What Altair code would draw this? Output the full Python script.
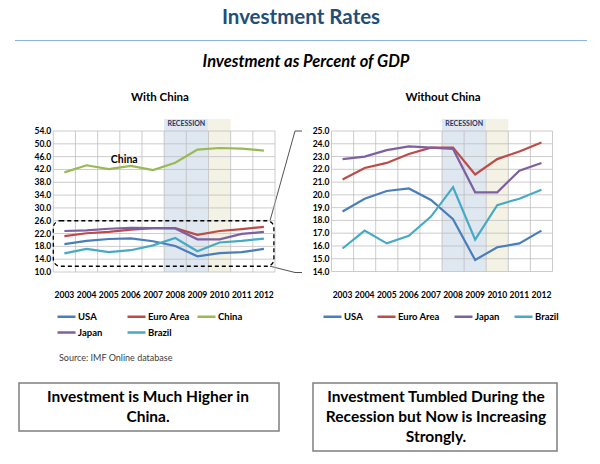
import altair as alt
import pandas as pd

# ---- data -------------------------------------------------------------
years = list(range(2003, 2013))
usa = [18.7, 19.7, 20.3, 20.5, 19.6, 18.1, 14.9, 15.9, 16.2, 17.2]
euro_area = [21.2, 22.1, 22.5, 23.2, 23.7, 23.7, 21.6, 22.8, 23.4, 24.1]
china = [41.1, 43.3, 42.1, 43.1, 41.8, 44.1, 48.2, 48.7, 48.5, 47.9]
japan = [22.8, 23.0, 23.5, 23.8, 23.7, 23.6, 20.2, 20.2, 21.9, 22.5]
brazil = [15.8, 17.2, 16.2, 16.8, 18.3, 20.6, 16.5, 19.2, 19.7, 20.4]

recession_years = [2008, 2009]
recovery_years = [2010]

left_series = ["USA", "Euro Area", "China", "Japan", "Brazil"]
right_series = ["USA", "Euro Area", "Japan", "Brazil"]
series_values = {"USA": usa, "Euro Area": euro_area, "China": china,
                 "Japan": japan, "Brazil": brazil}
series_colors = {"USA": "#4A7EBB", "Euro Area": "#BE4B48", "China": "#98B954",
                 "Japan": "#7D60A0", "Brazil": "#46AAC5"}

left_ticks = list(range(10, 55, 4))
right_ticks = list(range(14, 26, 1))

FONT = "Lato"
GRID = "#BFBFBF"
ONE = pd.DataFrame({"k": [0]})


def long_frame(names):
    rows = []
    for name in names:
        for yr, v in zip(years, series_values[name]):
            rows.append({"Year": yr, "Series": name, "Value": v})
    return pd.DataFrame(rows)


def label(text, x, y, size, weight="bold", style="normal", color="black",
          align="center", line_height=None):
    kw = dict(text=text, fontSize=size, fontWeight=weight, fontStyle=style,
              color=color, align=align, baseline="middle", font=FONT)
    if line_height:
        kw["lineHeight"] = line_height
    return alt.Chart(ONE).mark_text(**kw).encode(x=alt.value(x), y=alt.value(y))


def rule(x, y, x2, y2, color="black", width=1.0):
    return alt.Chart(ONE).mark_rule(color=color, strokeWidth=width).encode(
        x=alt.value(x), y=alt.value(y), x2=alt.value(x2), y2=alt.value(y2))


def box(x, y, x2, y2):
    return alt.Chart(ONE).mark_rect(fill="white", stroke="#7F7F7F", strokeWidth=1.5).encode(
        x=alt.value(x), y=alt.value(y), x2=alt.value(x2), y2=alt.value(y2))


def panel(names, px0, px1, pybot, pytop, ydom, yticks, legend):
    xs = alt.Scale(domain=[2002.5, 2012.5], range=[px0, px1], zero=False, nice=False)
    ys = alt.Scale(domain=ydom, range=[pybot, pytop], zero=False, nice=False)
    units_per_px = (ydom[1] - ydom[0]) / (pybot - pytop)
    shade_top = ydom[1] + 12 * units_per_px

    def shade(yrs, color):
        d = pd.DataFrame({"a": [min(yrs) - 0.5], "b": [max(yrs) + 0.5]})
        return alt.Chart(d).mark_rect(color=color).encode(
            x=alt.X("a:Q", scale=xs, axis=None), x2="b:Q",
            y=alt.YDatum(ydom[0], scale=ys, axis=None), y2=alt.Y2Datum(shade_top))

    rec_mid = pd.DataFrame({"m": [sum(recession_years) / len(recession_years)]})
    rec_text = alt.Chart(rec_mid).mark_text(
        text="RECESSION", fontSize=7, fontWeight="bold", color="#1F3864",
        font=FONT, baseline="middle").encode(
        x=alt.X("m:Q", scale=xs, axis=None), y=alt.value(pytop - 7))

    hgrid = alt.Chart(pd.DataFrame({"v": yticks})).mark_rule(
        color=GRID, strokeWidth=0.8).encode(
        y=alt.Y("v:Q", scale=ys, axis=None),
        x=alt.XDatum(2002.5, scale=xs, axis=None), x2=alt.X2Datum(2012.5))

    edges = [y - 0.5 for y in years] + [years[-1] + 0.5]
    vgrid = alt.Chart(pd.DataFrame({"e": edges})).mark_rule(
        color=GRID, strokeWidth=0.8).encode(
        x=alt.X("e:Q", scale=xs, axis=None),
        y=alt.YDatum(ydom[0], scale=ys, axis=None), y2=alt.Y2Datum(ydom[1]))

    ylab = alt.Chart(pd.DataFrame({"v": yticks})).mark_text(
        align="right", baseline="middle", fontSize=8.5, fontWeight="bold",
        font=FONT, color="black").encode(
        y=alt.Y("v:Q", scale=ys, axis=None), x=alt.value(px0 - 2),
        text=alt.Text("v:Q", format=".1f"))

    xlab = alt.Chart(pd.DataFrame({"yr": years})).mark_text(
        align="center", baseline="middle", fontSize=8.5, fontWeight="bold",
        font=FONT, color="black").encode(
        x=alt.X("yr:Q", scale=xs, axis=None), y=alt.value(295),
        text=alt.Text("yr:Q", format="d"))

    lines = alt.Chart(long_frame(names)).mark_line(strokeWidth=2.2).encode(
        x=alt.X("Year:Q", scale=xs, axis=None),
        y=alt.Y("Value:Q", scale=ys, axis=None),
        color=alt.Color("Series:N", sort=names,
                        scale=alt.Scale(domain=names,
                                        range=[series_colors[n] for n in names]),
                        legend=legend))

    layers = [shade(recession_years, "#DFE7F1"), shade(recovery_years, "#F3F2E4"),
              rec_text, hgrid, vgrid, lines, ylab, xlab]
    return layers, xs, ys


def legend(x, y, cols, align, pad):
    return alt.Legend(orient="none", legendX=x, legendY=y, columns=cols,
                      direction="horizontal", gridAlign=align,
                      columnPadding=pad, rowPadding=0,
                      symbolType="stroke", symbolSize=324, symbolStrokeWidth=2.5,
                      labelFont=FONT, labelFontSize=9.5, labelFontWeight="bold",
                      labelColor="black", labelOffset=1, title=None, padding=0)


# ---- left panel: with China -------------------------------------------
L_X0, L_X1, L_YB, L_YT = 53.3, 275.0, 272.0, 131.0
left_layers, lxs, lys = panel(left_series, L_X0, L_X1, L_YB, L_YT, [10, 54], left_ticks,
                              legend(56, 306, 3, "all", 2))

china_note = alt.Chart(pd.DataFrame({"x": [2005.7], "y": [44.9]})).mark_text(
    text="China", fontSize=10.5, fontWeight="bold", font=FONT, color="black").encode(
    x=alt.X("x:Q", scale=lxs, axis=None), y=alt.Y("y:Q", scale=lys, axis=None))

# dashed outline around the range that the right panel enlarges
zoom_low, zoom_high = 11.8, 26.0
zoom_box = alt.Chart(ONE).mark_rect(
    fillOpacity=0, stroke="black", strokeWidth=1.3, strokeDash=[4, 3],
    cornerRadius=7).encode(
    x=alt.XDatum(2002.5, scale=lxs, axis=None), x2=alt.X2Datum(2012.45),
    y=alt.YDatum(zoom_low, scale=lys, axis=None), y2=alt.Y2Datum(zoom_high))

left_panel = alt.layer(*left_layers, china_note, zoom_box)

# ---- right panel: without China ----------------------------------------
R_X0, R_X1, R_YB, R_YT = 331.5, 552.5, 271.5, 131.0
right_layers, rxs, rys = panel(right_series, R_X0, R_X1, R_YB, R_YT, [14, 25], right_ticks,
                               legend(322, 306, 4, "each", 9))
right_panel = alt.layer(*right_layers)


def ly(v):
    return L_YB - (v - 10) * (L_YB - L_YT) / (54 - 10)


# ---- page furniture -----------------------------------------------------
decor = [
    label("Investment Rates", 301, 18, 20.5, color="#1F4E79"),
    rule(15, 40.5, 587, 40.5, color="#8DB3E2", width=1),
    label("Investment as Percent of GDP", 306, 62, 16.5, style="italic"),
    label("With China", 160, 98, 11.5),
    label("Without China", 443, 98, 11.5),
    # connectors from the dashed outline to the enlarged axis
    rule(L_X1 - 5, ly(zoom_high), 295, R_YT, color="#404040", width=0.9),
    rule(295, R_YT, 302, R_YT, color="#404040", width=0.9),
    rule(L_X1 - 5, ly(zoom_low), 295, R_YB + 1, color="#404040", width=0.9),
    rule(295, R_YB + 1, 302, R_YB + 1, color="#404040", width=0.9),
    label("Source:  IMF  Online database", 59, 358, 9, weight="normal",
          color="#404040", align="left"),
    box(19, 383, 279, 431),
    label(["Investment is Much Higher in", "China."], 148, 397, 15.5, line_height=19.5),
    box(313, 383, 557, 451),
    label(["Investment Tumbled During the", "Recession but Now is Increasing", "Strongly."],
          436, 397, 15.5, line_height=20),
]

chart = alt.layer(*decor, left_panel, right_panel).resolve_scale(
    x="independent", y="independent", color="independent"
).properties(
    width=600, height=464, autosize=alt.AutoSizeParams(type="none"), padding=0,
    background="white"
).configure_view(stroke=None)

chart.save("out.html", embed_options={"renderer": "svg", "actions": False})
